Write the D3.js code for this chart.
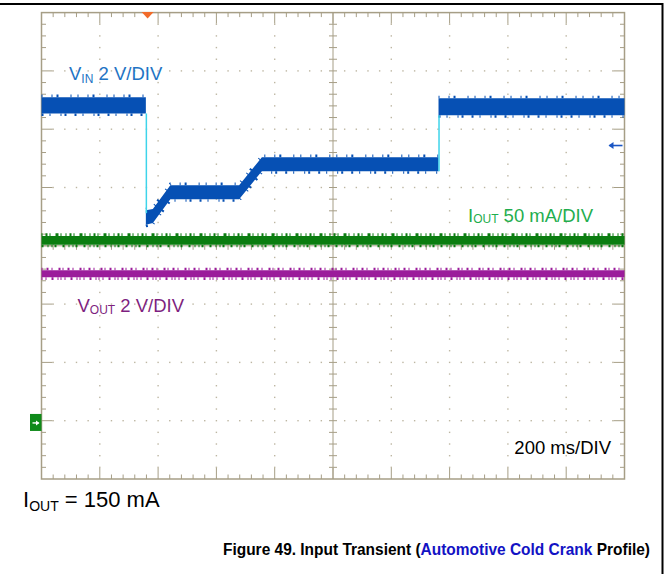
<!DOCTYPE html>
<html>
<head>
<meta charset="utf-8">
<script src="https://cdn.jsdelivr.net/npm/d3@7"></script>
<style>
  html, body { margin: 0; padding: 0; background: #fff; }
  svg { display: block; font-family: "Liberation Sans", Arial, sans-serif; }
</style>
</head>
<body>
<svg id="chart" width="665" height="574"></svg>
<script>
(function () {
  'use strict';

  // Scope screen units: time in divisions (200 ms/div), level in divisions above the bottom of the graticule.
  // VIN band: upper / lower envelope of the thick blue trace
  const VIN_T  = [0,    1.79, 1.79, 1.91, 2.21, 3.39, 3.78, 6.81, 6.81, 10];
  const VIN_HI = [6.55, 6.55, 4.61, 4.63, 5.04, 5.04, 5.52, 5.52, 6.53, 6.53];
  const VIN_LO = [6.27, 6.27, 4.36, 4.39, 4.80, 4.80, 5.28, 5.28, 6.24, 6.24];
  // fast VIN edges (drawn in cyan)
  const EDGE_T    = [1.79, 6.81];
  const EDGE_FROM = [6.27, 5.28];
  const EDGE_TO   = [4.56, 6.24];
  // IOUT (green) and VOUT (purple) bands
  const IOUT_T  = [0, 10];
  const IOUT_HI = [4.17, 4.17];
  const IOUT_LO = [4.02, 4.02];
  const VOUT_T  = [0, 10];
  const VOUT_HI = [3.58, 3.58];
  const VOUT_LO = [3.46, 3.46];
  // markers
  const TRIG_T = 1.82;       // trigger position (orange, top)
  const TRIG_LEVEL = 5.72;   // trigger level arrow (blue, right)
  const IOUT_GND = 0.97;     // channel ground marker (green, left)

  const N_X = 10, N_Y = 8, SUB = 5;

  const svg = d3.select('#chart');
  const x = d3.scaleLinear().domain([0, N_X]).range([41.5, 624.5]);
  const y = d3.scaleLinear().domain([0, N_Y]).range([479, 12.6]);
  const C = {
    frame: '#a69e86', dot: '#bdb6a2',
    vin: '#0650b4', edge: '#3ed4ea', iout: '#0b7d10', vout: '#9b1c9b',
    vinLbl: '#2274c4', ioutLbl: '#1fae4e', voutLbl: '#7e1f80'
  };

  // page rules (top and right)
  svg.append('line').attr('x1', 0).attr('x2', 663).attr('y1', 4).attr('y2', 4)
    .attr('stroke', '#000').attr('stroke-width', 2);
  svg.append('line').attr('x1', 662.5).attr('x2', 662.5).attr('y1', 3).attr('y2', 574)
    .attr('stroke', '#000').attr('stroke-width', 2);

  // dotted graticule
  const minX = d3.range(1, N_X * SUB).map(i => i / SUB);
  const minY = d3.range(1, N_Y * SUB).map(i => i / SUB);
  const dots = [];
  d3.range(1, N_X).filter(i => i !== N_X / 2).forEach(i => minY.forEach(v => dots.push([i, v])));
  d3.range(1, N_Y).filter(j => j !== N_Y / 2).forEach(j => minX.forEach(u => {
    if (u % 1 !== 0) dots.push([u, j]);
  }));
  svg.append('g').selectAll('rect').data(dots).join('rect')
    .attr('x', d => x(d[0]) - 0.7).attr('y', d => y(d[1]) - 0.7)
    .attr('width', 1.4).attr('height', 1.4).attr('fill', C.dot);

  // frame + ticks
  const g = svg.append('g').attr('stroke', C.frame).attr('fill', 'none');
  g.append('rect').attr('x', x(0)).attr('y', y(N_Y)).attr('width', x(N_X) - x(0)).attr('height', y(0) - y(N_Y))
    .attr('stroke-width', 1.5);
  const len = v => (Math.abs(v - Math.round(v)) < 1e-6 ? 11 : 4.5);
  minX.forEach(u => {
    g.append('line').attr('x1', x(u)).attr('x2', x(u)).attr('y1', y(N_Y)).attr('y2', y(N_Y) + len(u));
    g.append('line').attr('x1', x(u)).attr('x2', x(u)).attr('y1', y(0)).attr('y2', y(0) - len(u));
    g.append('line').attr('x1', x(u)).attr('x2', x(u)).attr('y1', y(N_Y / 2) - 4).attr('y2', y(N_Y / 2) + 4);
  });
  minY.forEach(v => {
    g.append('line').attr('y1', y(v)).attr('y2', y(v)).attr('x1', x(0)).attr('x2', x(0) + len(v));
    g.append('line').attr('y1', y(v)).attr('y2', y(v)).attr('x1', x(N_X)).attr('x2', x(N_X) - len(v));
    g.append('line').attr('y1', y(v)).attr('y2', y(v)).attr('x1', x(N_X / 2) - 4).attr('x2', x(N_X / 2) + 4);
  });
  g.append('line').attr('x1', x(N_X / 2)).attr('x2', x(N_X / 2)).attr('y1', y(0)).attr('y2', y(N_Y));
  g.append('line').attr('x1', x(0)).attr('x2', x(N_X)).attr('y1', y(N_Y / 2)).attr('y2', y(N_Y / 2));

  // split a band at vertical jumps (repeated t)
  function pieces(T, HI, LO) {
    const out = []; let cur = [];
    T.forEach((t, i) => {
      if (i > 0 && t === T[i - 1]) { out.push(cur); cur = []; }
      cur.push({ t: t, hi: HI[i], lo: LO[i] });
    });
    out.push(cur);
    return out;
  }

  const area = d3.area().x(d => x(d.t)).y0(d => y(d.lo)).y1(d => y(d.hi));
  function band(T, HI, LO, color, rough) {
    const layer = svg.append('g');
    pieces(T, HI, LO).forEach(p => {
      layer.append('path').attr('d', area(p)).attr('fill', color);
      // ragged noise edges
      [[-1, 'hi', rough[0]], [1, 'lo', rough[1]]].forEach(([s, k, dash]) => {
        layer.append('path')
          .attr('d', d3.line().x(d => x(d.t)).y(d => y(d[k]) + s * 1.3)(p))
          .attr('fill', 'none').attr('stroke', color).attr('stroke-width', 2.6)
          .attr('stroke-dasharray', dash);
      });
    });
  }

  band(IOUT_T, IOUT_HI, IOUT_LO, C.iout, ['1 3 2 2 1 5 3 2 1 4', '2 4 1 3 1 2 2 6']);
  band(VOUT_T, VOUT_HI, VOUT_LO, C.vout, ['1 4 2 3 1 6 2 2', '1 3 1 5 2 4 1 2']);
  band(VIN_T, VIN_HI, VIN_LO, C.vin, ['1 9 1 4 2 12 1 6', '2 6 1 10 1 3 2 8']);

  svg.append('g').selectAll('line').data(EDGE_T).join('line')
    .attr('x1', d => x(d) + 0.5).attr('x2', d => x(d) + 0.5)
    .attr('y1', (d, i) => y(EDGE_FROM[i])).attr('y2', (d, i) => y(EDGE_TO[i]))
    .attr('stroke', C.edge).attr('stroke-width', 1.5);

  // markers
  const tx = x(TRIG_T);
  svg.append('path').attr('d', `M${tx - 6},${y(N_Y) - 0.5}L${tx + 6},${y(N_Y) - 0.5}L${tx},${y(N_Y) + 6}Z`)
    .attr('fill', '#f26b2a');
  const ty = y(TRIG_LEVEL);
  svg.append('path').attr('d', `M${x(N_X) - 2},${ty}H${x(N_X) - 15}`)
    .attr('stroke', '#1a56c4').attr('stroke-width', 1.6);
  svg.append('path').attr('d', `M${x(N_X) - 16},${ty}l5,-3.5v7Z`).attr('fill', '#1a56c4');
  const gy = y(IOUT_GND);
  svg.append('rect').attr('x', x(0) - 11.5).attr('y', gy - 8.5).attr('width', 11.5).attr('height', 17)
    .attr('fill', '#0f8a1a');
  svg.append('path').attr('d', `M${x(0) - 9},${gy + 0.5}H${x(0) - 3}`).attr('stroke', '#fff').attr('stroke-width', 1.4);
  svg.append('path').attr('d', `M${x(0) - 2},${gy + 0.5}l-3.5,-2.5v5Z`).attr('fill', '#fff');

  // labels
  function label(px, py, main, sub, rest, color, size, subSize, dy) {
    const t = svg.append('text').attr('x', px).attr('y', py).attr('fill', color).style('font-size', size + 'px');
    t.append('tspan').text(main);
    t.append('tspan').attr('dy', dy).style('font-size', subSize + 'px').text(sub);
    t.append('tspan').attr('dy', -dy).text(rest);
  }
  label(69, 80, 'V', 'IN', ' 2 V/DIV', C.vinLbl, 18.5, 12, 3);
  label(468, 221.5, 'I', 'OUT', ' 50 mA/DIV', C.ioutLbl, 18.5, 12, 1.5);
  label(77.5, 311.5, 'V', 'OUT', ' 2 V/DIV', C.voutLbl, 18.5, 12, 2.5);
  svg.append('text').attr('x', 611).attr('y', 454).attr('text-anchor', 'end')
    .style('font-size', '18.5px').attr('fill', '#000').text('200 ms/DIV');
  label(23, 507, 'I', 'OUT', ' = 150 mA', '#000', 22, 14, 3.5);

  // caption, slightly narrowed like the source typeface
  const cap = svg.append('text').attr('transform', 'translate(650,555) scale(0.95,1)')
    .attr('text-anchor', 'end')
    .style('font-size', '16.3px').style('font-weight', 'bold').attr('fill', '#000');
  cap.append('tspan').text('Figure 49. Input Transient (');
  cap.append('tspan').attr('fill', '#1212c4').text('Automotive Cold Crank');
  cap.append('tspan').text(' Profile)');
})();
</script>
</body>
</html>
